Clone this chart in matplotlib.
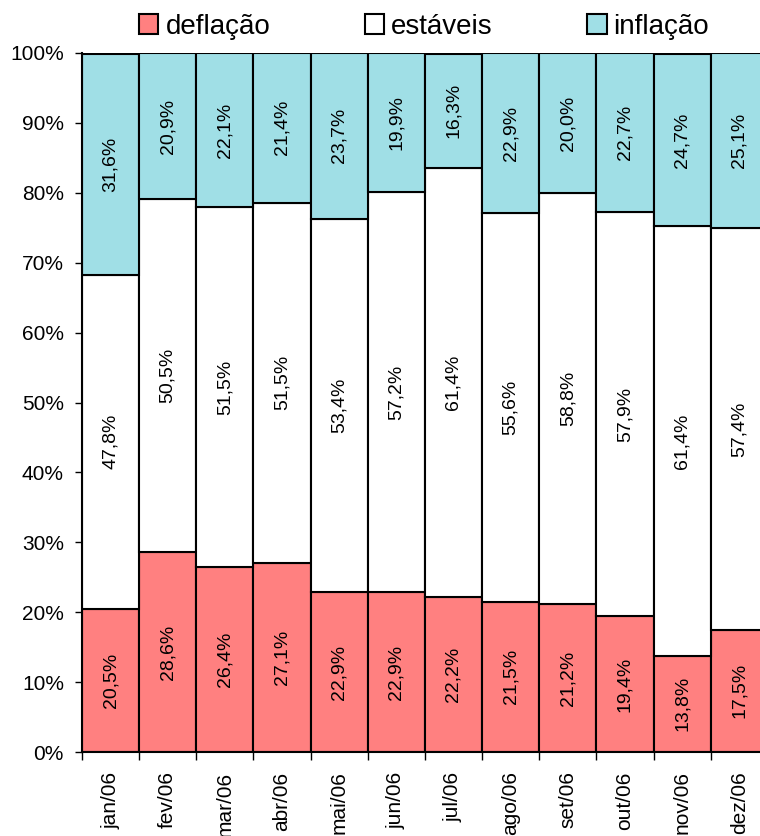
import numpy as np
import matplotlib.pyplot as plt
from matplotlib.ticker import FuncFormatter

plt.rcParams['font.family'] = ['Liberation Sans', 'DejaVu Sans']

meses = ['jan/06', 'fev/06', 'mar/06', 'abr/06', 'mai/06', 'jun/06',
         'jul/06', 'ago/06', 'set/06', 'out/06', 'nov/06', 'dez/06']
deflacao = [20.5, 28.6, 26.4, 27.1, 22.9, 22.9, 22.2, 21.5, 21.2, 19.4, 13.8, 17.5]
estaveis = [47.8, 50.5, 51.5, 51.5, 53.4, 57.2, 61.4, 55.6, 58.8, 57.9, 61.4, 57.4]
inflacao = [31.6, 20.9, 22.1, 21.4, 23.7, 19.9, 16.3, 22.9, 20.0, 22.7, 24.7, 25.1]

fig = plt.figure(figsize=(7.6, 8.36), dpi=100)
ax = fig.add_axes([82/760, 1-752/836, 1-82/760, (752-53)/836])

x = np.arange(len(meses)) + 0.5
d = np.array(deflacao)
e = np.array(estaveis)
i = np.array(inflacao)

kw = dict(width=1.0, edgecolor='black', linewidth=1.5)
b1 = ax.bar(x, d, color='#FF8080', label='deflação', **kw)
b2 = ax.bar(x, e, bottom=d, color='white', label='estáveis', **kw)
b3 = ax.bar(x, i, bottom=d+e, color='#A0DFE6', label='inflação', **kw)

def fmt(v):
    return ('%.1f%%' % v).replace('.', ',')

for k in range(len(meses)):
    ax.text(x[k], d[k]/2, fmt(d[k]), rotation=90, ha='center', va='center', fontsize=14)
    ax.text(x[k], d[k]+e[k]/2, fmt(e[k]), rotation=90, ha='center', va='center', fontsize=14)
    ax.text(x[k], d[k]+e[k]+i[k]/2, fmt(i[k]), rotation=90, ha='center', va='center', fontsize=14)

ax.set_xlim(0, 678/57.15)
ax.set_ylim(0, 100)
ax.set_yticks(np.arange(0, 101, 10))
ax.yaxis.set_major_formatter(FuncFormatter(lambda v, p: '%d%%' % v))
ax.set_xticks(x)
ax.set_xticklabels(meses, rotation=90, fontsize=15)
ax.set_xticks(np.arange(0, len(meses)), minor=True)
ax.tick_params(axis='x', which='major', length=0, pad=14)
ax.tick_params(axis='x', which='minor', length=6, width=1, direction='out')
ax.tick_params(axis='y', length=5, width=1, labelsize=15, direction='out', pad=8)
for s in ['top', 'right']:
    ax.spines[s].set_visible(False)
for s in ['left', 'bottom']:
    ax.spines[s].set_linewidth(1.5)

fig.legend(handles=[b1, b2, b3], loc='center', bbox_to_anchor=(0.558, 0.968),
           ncol=3, frameon=False, fontsize=20, handlelength=0.7, handleheight=0.7,
           handletextpad=0.25, columnspacing=3.4)

plt.savefig('out.png')
